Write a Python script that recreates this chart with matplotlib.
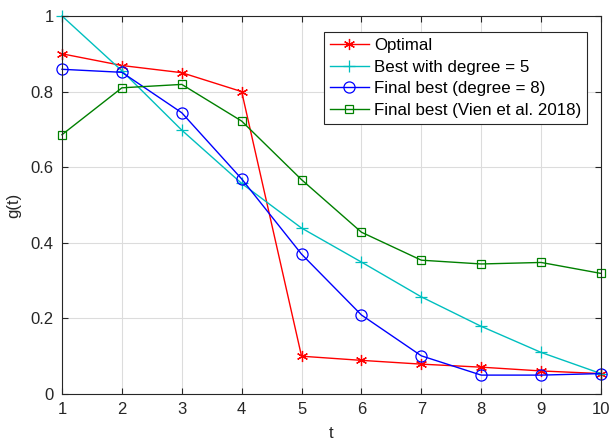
import matplotlib
matplotlib.use("Agg")
import matplotlib.pyplot as plt

plt.rcParams["font.family"] = ["Liberation Sans", "DejaVu Sans"]

# Data
t = [1, 2, 3, 4, 5, 6, 7, 8, 9, 10]
optimal = [0.90, 0.869, 0.85, 0.80, 0.10, 0.089, 0.079, 0.071, 0.061, 0.054]
best_deg5 = [1.0, 0.855, 0.698, 0.557, 0.439, 0.349, 0.257, 0.179, 0.11, 0.054]
final_deg8 = [0.859, 0.851, 0.744, 0.569, 0.37, 0.209, 0.101, 0.05, 0.05, 0.054]
final_vien = [0.686, 0.81, 0.819, 0.722, 0.567, 0.428, 0.354, 0.344, 0.348, 0.319]

labels = ["Optimal", "Best with degree = 5", "Final best (degree = 8)",
          "Final best (Vien et al. 2018)"]

AX_COLOR = "#262626"

fig = plt.figure(figsize=(6.12, 4.43), dpi=100)
ax = fig.add_axes([0.1013, 0.1106, 0.8807, 0.8533])

ax.plot(t, optimal, color="red", lw=1.0, marker=(6, 2, 0), ms=8, mew=0.9,
        clip_on=False, label=labels[0])
ax.plot(t, best_deg5, color="#00BFBF", lw=1.0, marker="+", ms=8, mew=0.9,
        clip_on=False, label=labels[1])
ax.plot(t, final_deg8, color="blue", lw=1.0, marker="o", ms=8, mfc="none", mew=0.9,
        clip_on=False, label=labels[2])
ax.plot(t, final_vien, color="green", lw=1.0, marker="s", ms=6, mfc="none", mew=0.9,
        clip_on=False, label=labels[3])

ax.set_xlim(1, 10)
ax.set_ylim(0, 1)
ax.set_xticks(range(1, 11))
ax.set_yticks([0, 0.2, 0.4, 0.6, 0.8, 1])
ax.set_yticklabels(["0", "0.2", "0.4", "0.6", "0.8", "1"])
ax.grid(True, color="#DCDCDC", lw=0.8)
ax.set_axisbelow(True)
ax.tick_params(direction="in", top=True, right=True, length=4, width=0.8,
               colors=AX_COLOR, labelsize=12, pad=6)
for s in ax.spines.values():
    s.set_color(AX_COLOR)
    s.set_linewidth(0.8)

ax.set_xlabel("t", fontsize=12, color=AX_COLOR, labelpad=6)
ax.set_ylabel("g(t)", fontsize=12, color=AX_COLOR, labelpad=7)

leg = ax.legend(loc="upper right", bbox_to_anchor=(0.974, 0.958), fontsize=12.2,
                fancybox=False, framealpha=1, edgecolor=AX_COLOR,
                handlelength=2.3, handletextpad=0.3, borderpad=0.35,
                labelspacing=0.4, borderaxespad=0)
leg.get_frame().set_linewidth(0.8)

fig.savefig("out.png", dpi=100)
